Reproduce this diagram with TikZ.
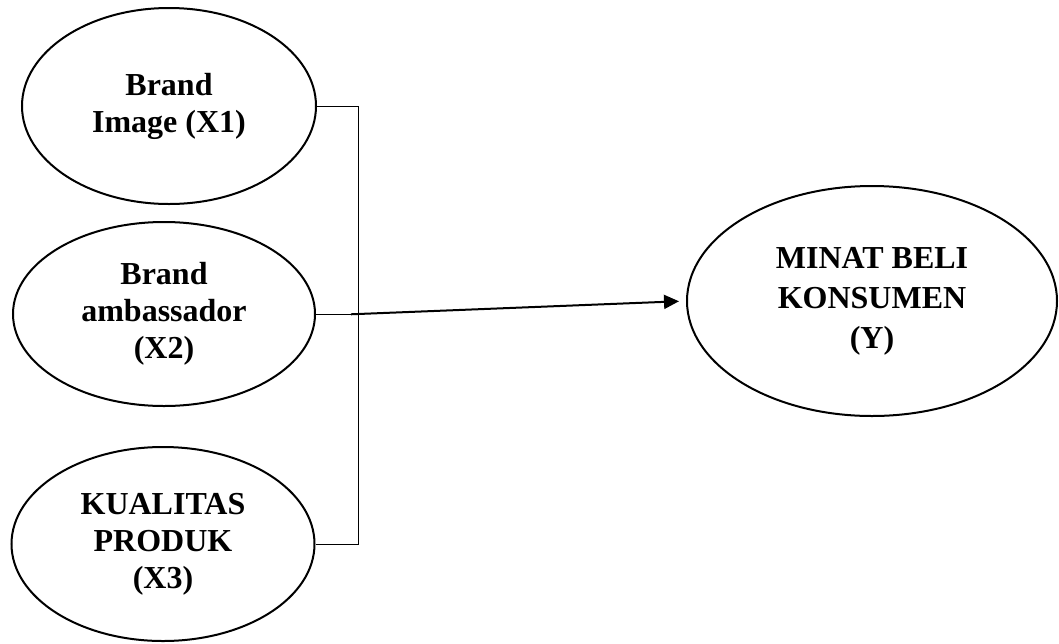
\documentclass[tikz,border=0pt]{standalone}
\usepackage{fontspec}
\setmainfont{Liberation Serif}
\usetikzlibrary{positioning,shapes.geometric,arrows.meta}

\begin{document}
\begin{tikzpicture}[x=1pt, y=-1pt,
    var/.style={ellipse, draw, line width=2pt, inner sep=0pt, align=center,
        font=\fontsize{32}{37}\selectfont\bfseries},
    link/.style={line width=0.8pt},
    pointer/.style={line width=2pt, -{Triangle[length=15pt,width=14pt]}}]
    \useasboundingbox (0,0) rectangle (1059,643);

    % Independent variables
    \node[var, minimum width=294pt, minimum height=196pt] (x1) at (169,106) {Brand\\Image (X1)};
    \node[var, minimum width=302pt, minimum height=184pt] (x2) at (164,314) {Brand\\ambassador\\(X2)};
    \node[var, minimum width=303pt, minimum height=194pt] (x3) at (163,544) {KUALITAS\\PRODUK\\(X3)};

    % Dependent variable
    \node[var, minimum width=370pt, minimum height=230pt,
        font=\fontsize{32}{40}\selectfont\bfseries] (y) at (872,301) {MINAT BELI\\KONSUMEN\\(Y)};

    % Bracket
    \coordinate (bx) at (358,0);
    \draw[link] (x1.east) -- (x1.east -| bx) -- (x3.east -| bx) -- (x3.east);
    \draw[link] (x2.east) -- (x2.east -| bx);

    % Arrow
    \draw[pointer, shorten <=-7pt, shorten >=7pt] (x2.east -| bx) -- (y.west);
\end{tikzpicture}
\end{document}
